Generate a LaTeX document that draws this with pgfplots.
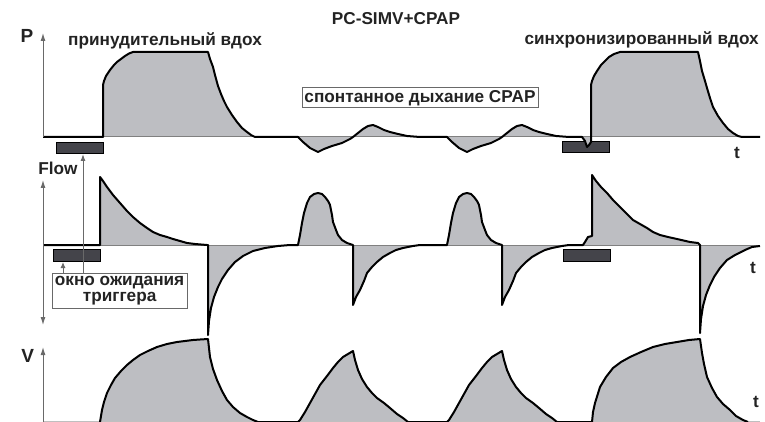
\documentclass[border=0pt]{standalone}
\usepackage{fontspec}
\setmainfont{Liberation Sans}
\usepackage{pgfplots}
\pgfplotsset{compat=1.18}
\usepackage{pgfplotstable}
\usetikzlibrary{arrows.meta}
\definecolor{wavegray}{RGB}{189,190,194}
\definecolor{trig}{RGB}{68,68,74}
\definecolor{axisgray}{RGB}{105,105,105}
\definecolor{ink}{RGB}{35,35,35}

% pressure, x = time (px), y = level above baseline
\pgfplotstableread{
t p
43 0
103 0
103 52
104 56
106 61
110 67
114 72
117 75
121 78
125 81
129 83.5
133 85
208 85
210 78
213 70
215 62
218 51
221 43
224 36
227 30
232 22
237 15
242 9
247 5
251 2
255 0
298 0
303 -5
310 -11
318 -15
324 -12
332 -9
342 -6
350 -2
353 0
358 4
363 8
368 11
373 12
378 10
384 7
390 5
398 3
407 1
420 0
447 0
452 -5
459 -11
467 -15
473 -12
481 -9
491 -6
499 -2
502 0
507 4
512 8
517 11
522 12
527 10
533 7
539 5
547 3
556 1
569 0
582 0
585 -4
587 -10
589 -8
591 -5
591 52
592 56
594 61
597 66
601 72
605 76
609 80
614 83
620 85
698 85
700 76
702 66
705 56
707 49
710 39
713 30
718 21
723 14
728 8
733 4
738 1
742 0
760 0
}\Pdata

\pgfplotstableread{
t f
43 0
100 0
100 68
103 64
107 58
113 50
120 42
127 34
133 28
140 22
147 17
153 13
160 10
167 8
173 6
180 4
187 2
195 1
207 0
208 0
208 -90
209 -76
211 -63
214 -52
218 -42
222 -34
228 -25
235 -17
243 -11
253 -6
265 -3
278 -1
290 0
298 0
300 10
302 22
304 32
307 42
310 48
314 51
318 52
322 51
325 48
328 44
330 40
332 30
333 23
336 15
338 10
342 5
347 2
353 0
353 -60
356 -52
360 -45
364 -36
367 -28
372 -22
377 -17
383 -12
390 -8
396 -5
403 -3
413 -1
420 0
447 0
449 10
451 22
453 32
456 42
459 48
463 51
467 52
471 51
474 48
477 44
479 40
481 30
482 23
485 15
487 10
491 5
496 2
502 0
502 -60
505 -52
509 -45
513 -36
516 -28
521 -22
526 -17
532 -12
539 -8
545 -5
552 -3
562 -1
569 0
583 0
585 3
588 8
592 9
592 70
596 64
601 58
607 52
613 45
620 38
627 31
633 25
640 21
647 17
653 13
660 10
668 8
677 6
690 3
698 2
700 0
700 -88
701 -74
703 -61
706 -50
710 -40
714 -32
720 -23
727 -15
735 -10
745 -5
752 -2
760 -1
}\Fdata

\pgfplotstableread{
t v
100 0
101 6
102 12
104 20
107 29
111 37
115 44
121 51
127 57
133 62
140 67
148 71
157 75
167 78
177 80
185 81
193 82
200 82.5
208 83
209 74
210 65
213 53
217 42
222 31
227 22
233 15
240 9
247 5
253 2
258 0
298 0
300 2
305 10
310 19
315 28
320 37
327 46
333 54
338 60
343 65
348 68
353 71
355 62
358 52
362 43
367 35
372 29
377 24
384 19
390 14
397 8
403 4
408 0
447 0
449 2
454 10
459 19
464 28
469 37
476 46
482 54
487 60
492 65
497 68
502 71
504 62
507 52
511 43
516 35
521 29
526 24
533 19
539 14
546 8
552 4
557 0
592 0
593 10
595 19
600 35
606 45
613 54
621 60
630 65
641 70
653 75
665 78
677 80
689 82
700 83
701 76
702 69
704 58
707 45
712 34
717 25
723 18
730 12
736 6
743 2
748 0
}\Vdata

\pgfplotsset{panel/.style={hide axis, x=0.5pt, y=0.5pt, xmin=0, xmax=765,
  clip=false, anchor=origin}}
\tikzset{lbl/.style={font=\fontsize{8.6}{9}\selectfont\bfseries, text=ink, inner sep=0pt},
  trigbox/.style={fill=trig, draw=black, line width=0.4pt},
  wave/.style={black, line width=1pt, line join=round},
  base/.style={gray, line width=0.5pt},
  ax/.style={axisgray, line width=0.5pt}}

\begin{document}
\begin{tikzpicture}
\path[use as bounding box] (0,0) rectangle (382.5pt,-211pt);

% P
\begin{axis}[panel, at={(0pt,-68.5pt)}, ymin=-23, ymax=137]
\draw[trigbox] (axis cs:56,-5) rectangle (axis cs:103,-16);
\draw[trigbox] (axis cs:562,-4) rectangle (axis cs:609,-15);
\addplot[fill=wavegray, draw=none] table {\Pdata} -- cycle;
\addplot[base] coordinates {(43,0) (760,0)};
\addplot[wave] table {\Pdata};
\draw[ax, -{Latex[length=4pt,width=2.5pt]}] (axis cs:43,0) -- (axis cs:43,104);
\end{axis}

% Flow
\begin{axis}[panel, at={(0pt,-122.5pt)}, ymin=-100, ymax=95]
\draw[trigbox] (axis cs:53,-4) rectangle (axis cs:100,-16);
\draw[trigbox] (axis cs:563,-4) rectangle (axis cs:610,-16);
\addplot[fill=wavegray, draw=none] table {\Fdata} -- cycle;
\addplot[base] coordinates {(43,0) (760,0)};
\addplot[wave] table {\Fdata};
\draw[ax, {Latex[length=4pt,width=2.5pt]}-{Latex[length=4pt,width=2.5pt]}] (axis cs:43,-80) -- (axis cs:43,65);
\end{axis}

% V
\begin{axis}[panel, at={(0pt,-211pt)}, ymin=0, ymax=122]
\addplot[fill=wavegray, draw=none] table {\Vdata} -- cycle;
\addplot[gray!50, line width=0.4pt] coordinates {(43,0.5) (760,0.5)};
\addplot[wave] table {\Vdata};
\draw[ax, -{Latex[length=4pt,width=2.5pt]}] (axis cs:43,0) -- (axis cs:43,75);
\end{axis}

% trigger window arrows
\draw[ax, -{Latex[length=3.5pt,width=2.5pt]}] (41.5pt,-137pt) -- (41.5pt,-77pt);
\draw[ax, -{Latex[length=3pt,width=2.5pt]}] (31.5pt,-137pt) -- (31.5pt,-131pt);

% labels
\node[lbl, anchor=base] at (198pt,-12.5pt) {PC-SIMV+CPAP};
\node[lbl, anchor=base, font=\fontsize{9.5}{10}\selectfont\bfseries] at (13.5pt,-21.5pt) {P};
\node[lbl, anchor=base] at (29pt,-87.5pt) {Flow};
\node[lbl, anchor=base, font=\fontsize{9.5}{10}\selectfont\bfseries] at (13.8pt,-181pt) {V};
\node[lbl, anchor=base] at (82.5pt,-23pt) {принудительный вдох};
\node[lbl, anchor=base] at (320.8pt,-22.5pt) {синхронизированный вдох};
\node[lbl, draw=axisgray, line width=0.5pt, fill=white, minimum width=118pt, minimum height=10pt]
  at (210pt,-49pt) {спонтанное дыхание CPAP};
\node[lbl, draw=axisgray, line width=0.5pt, fill=white, minimum width=67.5pt, minimum height=17.5pt,
  align=center, font=\fontsize{8.6}{7.6}\selectfont\bfseries] at (59.8pt,-145.3pt) {окно ожидания\\триггера};
\node[lbl] at (368.5pt,-76.5pt) {t};
\node[lbl] at (376.5pt,-134pt) {t};
\node[lbl] at (378pt,-201pt) {t};
\end{tikzpicture}
\end{document}
